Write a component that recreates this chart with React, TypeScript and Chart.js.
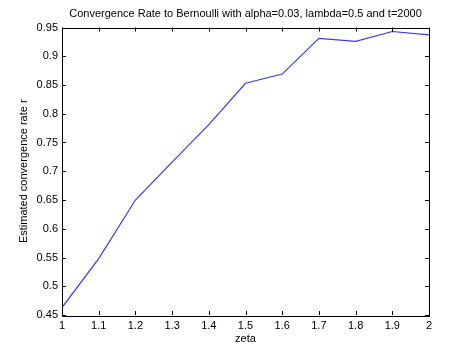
import React, { useEffect, useRef } from "react";
import { Chart, registerables } from "chart.js";

Chart.register(...registerables);

const zeta = [1, 1.1, 1.2, 1.3, 1.4, 1.5, 1.6, 1.7, 1.8, 1.9, 2];
const rate = [0.463, 0.548, 0.65, 0.716, 0.781, 0.853, 0.869, 0.931, 0.926, 0.943, 0.937];
const xTickLabels = ["1", "1.1", "1.2", "1.3", "1.4", "1.5", "1.6", "1.7", "1.8", "1.9", "2"];
const yTickLabels = ["0.45", "0.5", "0.55", "0.6", "0.65", "0.7", "0.75", "0.8", "0.85", "0.9", "0.95"];
const titleText = "Convergence Rate to Bernoulli with alpha=0.03, lambda=0.5 and t=2000";

const FONT = "'Liberation Sans', Arial, Helvetica, sans-serif";

const boxTicks = {
  id: "boxTicks",
  afterDatasetsDraw(chart: any) {
    const { ctx, chartArea: a, scales } = chart;
    const L = 4;
    ctx.save();
    ctx.strokeStyle = "#000";
    ctx.lineWidth = 1;
    ctx.beginPath();
    ctx.rect(Math.round(a.left) + 0.5, Math.round(a.top) + 0.5, Math.round(a.right - a.left), Math.round(a.bottom - a.top));
    ctx.stroke();
    ctx.beginPath();
    scales.x.ticks.forEach((t: any) => {
      const px = Math.round(scales.x.getPixelForValue(t.value)) + 0.5;
      ctx.moveTo(px, a.bottom);
      ctx.lineTo(px, a.bottom - L);
      ctx.moveTo(px, a.top);
      ctx.lineTo(px, a.top + L);
    });
    scales.y.ticks.forEach((t: any) => {
      const py = Math.round(scales.y.getPixelForValue(t.value)) + 0.5;
      ctx.moveTo(a.left, py);
      ctx.lineTo(a.left + L, py);
      ctx.moveTo(a.right, py);
      ctx.lineTo(a.right - L, py);
    });
    ctx.stroke();
    // title centered over the plot area
    ctx.fillStyle = "#000";
    ctx.font = `11px ${FONT}`;
    ctx.textAlign = "center";
    ctx.textBaseline = "middle";
    ctx.fillText(titleText, (a.left + a.right) / 2, 13.5);
    ctx.restore();
  },
};

export default function App() {
  const ref = useRef<HTMLCanvasElement | null>(null);
  useEffect(() => {
    if (!ref.current) return;
    const chart = new Chart(ref.current, {
      type: "line",
      data: {
        datasets: [
          {
            data: zeta.map((x, i) => ({ x, y: rate[i] })),
            borderColor: "#3a3ae0",
            borderWidth: 1.2,
            pointRadius: 0,
            tension: 0,
            fill: false,
          },
        ],
      },
      options: {
        animation: false,
        responsive: false,
        maintainAspectRatio: false,
        layout: { padding: { left: 0, right: 45, top: 27.5, bottom: 0 } },
        plugins: {
          legend: { display: false },
          tooltip: { enabled: false },
          title: { display: false },
        },
        scales: {
          x: {
            type: "linear",
            min: 1,
            max: 2,
            afterBuildTicks: (s: any) => {
              s.ticks = zeta.map((v) => ({ value: v }));
            },
            ticks: {
              callback: (_v: any, i: number) => xTickLabels[i],
              color: "#000",
              font: { family: FONT, size: 11 },
              padding: 4,
              maxRotation: 0,
              autoSkip: false,
            },
            grid: { display: false, drawTicks: false },
            border: { display: false },
            title: {
              display: true,
              text: "zeta",
              color: "#000",
              font: { family: FONT, size: 11 },
              padding: { top: 0, bottom: 8 },
            },
            afterFit: (s: any) => {
              s.height = 39;
            },
          },
          y: {
            type: "linear",
            min: 0.45,
            max: 0.95,
            afterBuildTicks: (s: any) => {
              s.ticks = yTickLabels.map((l) => ({ value: parseFloat(l) }));
            },
            ticks: {
              callback: (_v: any, i: number) => yTickLabels[i],
              color: "#000",
              font: { family: FONT, size: 11 },
              padding: 4,
              autoSkip: false,
            },
            grid: { display: false, drawTicks: false },
            border: { display: false },
            title: {
              display: true,
              text: "Estimated convergence rate r",
              color: "#000",
              font: { family: FONT, size: 11 },
              padding: { top: 17, bottom: 0 },
            },
            afterFit: (s: any) => {
              s.width = 62;
            },
          },
        },
      },
      plugins: [boxTicks],
    });
    return () => chart.destroy();
  }, []);
  return (
    <div style={{ position: "absolute", left: 0, top: 0, width: 474, height: 354, background: "#fff" }}>
      <canvas ref={ref} width={474} height={354} style={{ width: 474, height: 354, display: "block" }} />
    </div>
  );
}
